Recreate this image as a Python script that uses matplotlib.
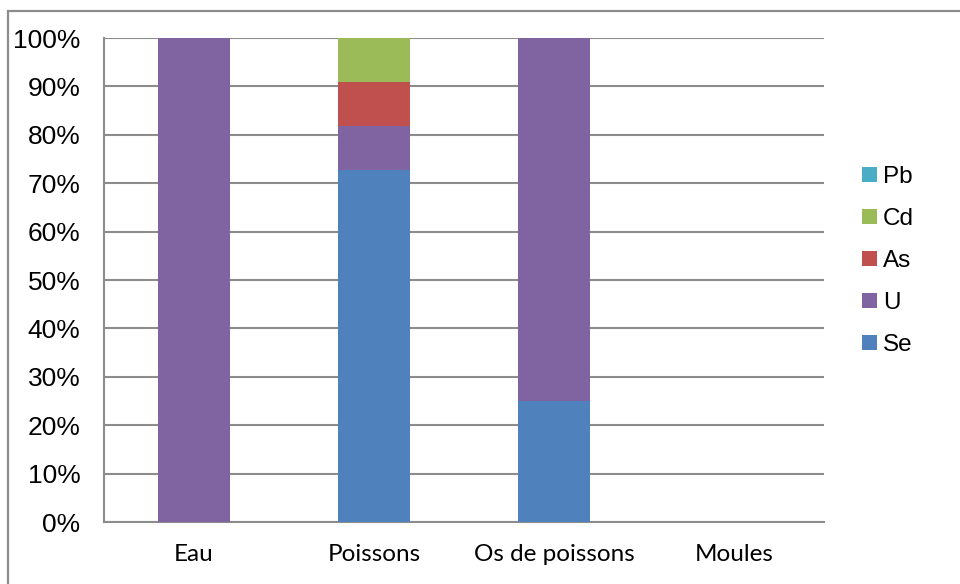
import matplotlib
matplotlib.use("Agg")
import matplotlib.pyplot as plt
from matplotlib.patches import Rectangle, Patch
import numpy as np

categories = ["Eau", "Poissons", "Os de poissons", "Moules"]
series_names = ["Se", "U", "As", "Cd", "Pb"]
se = [0.0, 8 / 11, 0.25, 0.0]
u = [1.0, 1 / 11, 0.75, 0.0]
as_ = [0.0, 1 / 11, 0.0, 0.0]
cd = [0.0, 1 / 11, 0.0, 0.0]
pb = [0.0, 0.0, 0.0, 0.0]
colors = ["#4F81BD", "#8064A2", "#C0504D", "#9BBB59", "#4BACC6"]
y_ticks = [0, 10, 20, 30, 40, 50, 60, 70, 80, 90, 100]

values = [se, u, as_, cd, pb]

fig = plt.figure(figsize=(9.6, 5.84), dpi=100)
W, H = 960, 584

# chart area frame (runs off the right and bottom edges)
fig.patches.append(Rectangle((8 / W, -0.2), 1.2, 1.2 - 11 / H, transform=fig.transFigure,
                             fill=False, edgecolor="#8C8C8C", linewidth=1.6, zorder=0))

ax = fig.add_axes([104 / W, 62 / H, 720 / W, 484 / H])
x = np.arange(len(categories))
bottom = np.zeros(len(categories))
for name, vals, col in zip(series_names, values, colors):
    ax.bar(x, vals, width=0.4, bottom=bottom, color=col, label=name, zorder=3)
    bottom += np.array(vals)

ax.set_xlim(-0.5, len(categories) - 0.5)
ax.set_ylim(0, 1)
ax.set_yticks([t / 100 for t in y_ticks])
ax.set_yticklabels([f"{t}%" for t in y_ticks], family="Liberation Sans", fontsize=19)
ax.set_xticks(x)
ax.set_xticklabels(categories, family="Lato", fontsize=17.5)
ax.tick_params(axis="both", length=0)
ax.tick_params(axis="y", pad=17)
ax.tick_params(axis="x", pad=16)
ax.yaxis.grid(True, color="#8C8C8C", linewidth=1.5)
ax.set_axisbelow(True)
for side in ["top", "right"]:
    ax.spines[side].set_visible(False)
for side in ["left", "bottom"]:
    ax.spines[side].set_color("#8C8C8C")
    ax.spines[side].set_linewidth(1.5)

handles = [Patch(facecolor=c, edgecolor="none", label=n) for n, c in zip(series_names, colors)]
handles = handles[::-1]
fig.legend(handles=handles, loc="center left", bbox_to_anchor=(862 / W, 1 - 261 / H),
           frameon=False, prop={"family": "Liberation Sans", "size": 17.5},
           handlelength=0.6, handleheight=0.6, handletextpad=0.25, labelspacing=0.82,
           borderpad=0, borderaxespad=0)

fig.savefig("out.png", dpi=100)
